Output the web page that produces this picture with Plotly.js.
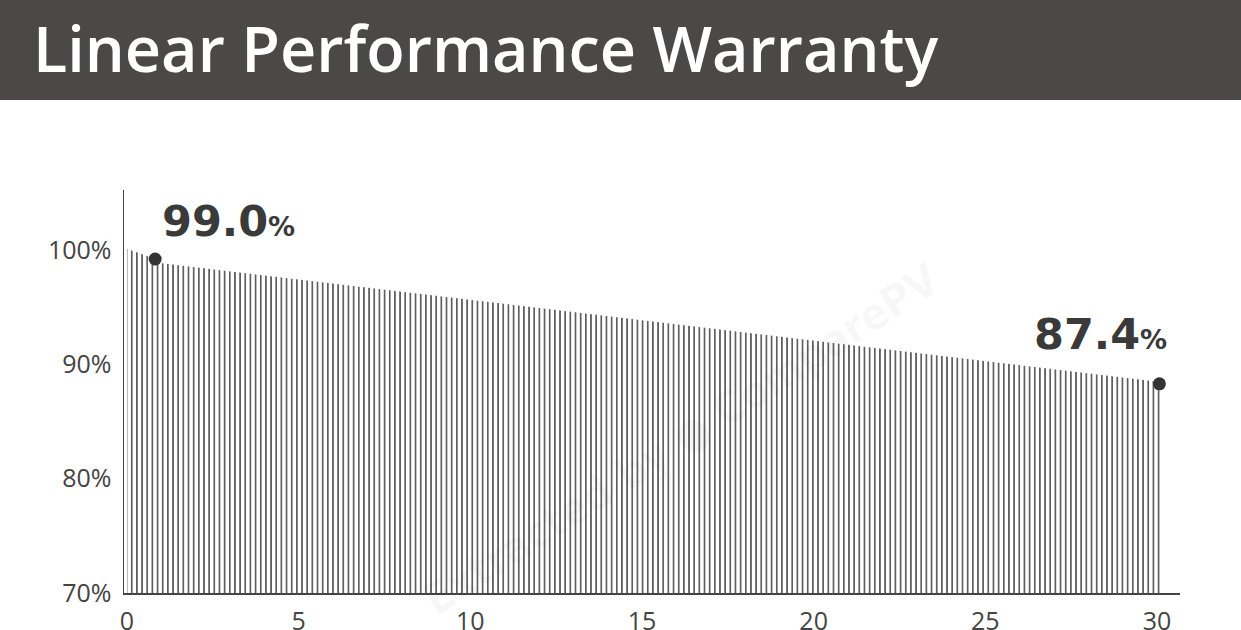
<!DOCTYPE html>
<html>
<head>
<meta charset="utf-8">
<script src="https://cdn.plot.ly/plotly-3.0.1.min.js"></script>
<style>
html,body{margin:0;padding:0;background:#fff;}
#chart{width:1241px;height:630px;}
</style>
</head>
<body>
<div id="chart"></div>
<script>
// ---- data ----
var chartTitle = 'Linear Performance Warranty';
// outline of the hatched warranty area (year, % of nominal power)
var curveYears  = [0, 0.82, 0.96, 30.1];
var curveValues = [100.1, 99.2, 98.85, 88.45];
// highlighted points
var dotYears  = [0.82, 30.07];
var dotValues = [99.19, 88.29];
var dotLabels = ['99.0', '87.4'];
// axis ticks
var xTickVals  = [0, 5, 10, 15, 20, 25, 30];
var xTickText  = ['0', '5', '10', '15', '20', '25', '30'];
var yTickVals  = [70, 80, 90, 100];
var yTickText  = ['70%', '80%', '90%', '100%'];

var ink = '#3a3a3a';

var area = {
  x: curveYears, y: curveValues,
  type: 'scatter', mode: 'none',
  fill: 'tozeroy',
  fillcolor: 'rgba(0,0,0,0)',
  fillpattern: {shape: '|', size: 5.16, solidity: 0.27, fgcolor: '#383838', bgcolor: 'rgba(255,255,255,0)', fillmode: 'replace'},
  hoverinfo: 'skip', showlegend: false
};
var dots = {
  x: dotYears, y: dotValues,
  type: 'scatter', mode: 'markers',
  marker: {size: 13, color: '#333333'},
  hoverinfo: 'skip', showlegend: false
};

var annotations = [];
// label positions relative to dots (in pixels)
var labelOffsets = [[5, -11], [10, -23]];
var labelAnchors = ['left', 'right'];
for (var i = 0; i < dotLabels.length; i++) {
  annotations.push({
    x: dotYears[i], y: dotValues[i], xref: 'x', yref: 'y',
    text: dotLabels[i] + '<span style="font-size:27px">%</span>',
    showarrow: false,
    xanchor: labelAnchors[i], yanchor: 'bottom',
    xshift: labelOffsets[i][0], yshift: -labelOffsets[i][1],
    font: {family: 'DejaVu Sans', size: 43, color: ink, weight: 'bold'}
  });
}
// faint watermark
annotations.push({
  xref: 'paper', yref: 'paper', x: 0.527, y: 0.85,
  text: 'Extracted by ● ComparePV', showarrow: false,
  textangle: -33,
  font: {family: 'DejaVu Sans Condensed', size: 44, color: 'rgba(0,0,0,0.03)', weight: 'bold'}
});

var layout = {
  width: 1241, height: 630,
  margin: {l: 124, r: 61, t: 190, b: 37, pad: 0},
  paper_bgcolor: '#ffffff', plot_bgcolor: '#ffffff',
  title: {
    text: chartTitle,
    xref: 'container', yref: 'container',
    x: 33/1241, xanchor: 'left',
    y: 1 - 50/630, yanchor: 'middle',
    font: {family: 'Open Sans', size: 63, color: '#ffffff', weight: 600}
  },
  shapes: [{
    type: 'rect', xref: 'paper', yref: 'paper', layer: 'below',
    x0: -124/1056, x1: 1 + 61/1056,
    y0: 1 + 90/403, y1: 1 + 190/403,
    fillcolor: '#4a4947', line: {width: 0}
  }],
  xaxis: {
    range: [-0.087, 30.67],
    tickvals: xTickVals, ticktext: xTickText,
    showgrid: false, zeroline: false,
    showline: true, linecolor: '#444444', linewidth: 1.5,
    ticks: '', ticklabelstandoff: 5,
    tickfont: {family: 'Open Sans', size: 25, color: '#444444'}
  },
  yaxis: {
    range: [70, 105.23],
    tickvals: yTickVals, ticktext: yTickText,
    showgrid: false, zeroline: false,
    showline: true, linecolor: '#444444', linewidth: 1.5,
    ticks: '', ticklabelstandoff: 6,
    tickfont: {family: 'Open Sans', size: 25, color: '#444444'}
  },
  annotations: annotations,
  showlegend: false
};

Plotly.newPlot('chart', [area, dots], layout, {staticPlot: true, displayModeBar: false});
</script>
</body>
</html>
